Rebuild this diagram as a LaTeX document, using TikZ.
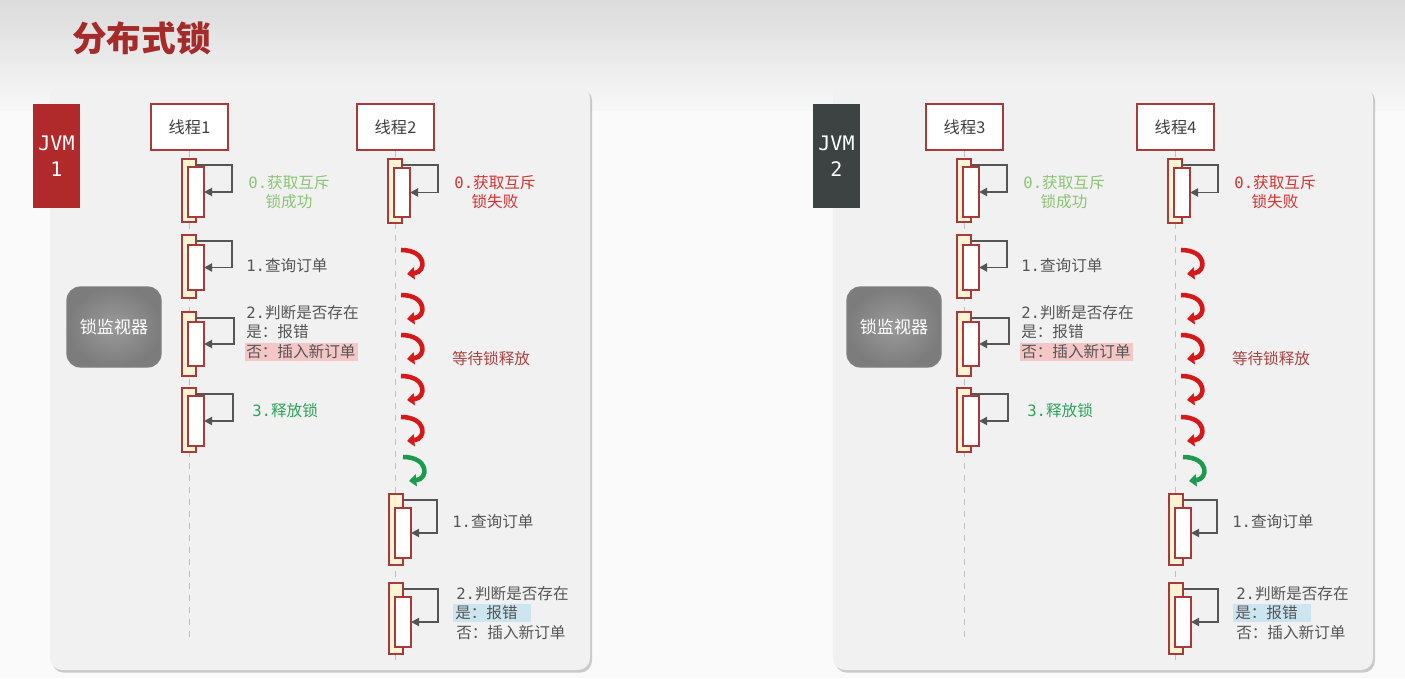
\documentclass[tikz,border=0pt]{standalone}
\usepackage{fontspec}
\setmainfont{Noto Sans CJK SC}
\setmonofont{DejaVu Sans Mono}
\usetikzlibrary{arrows.meta,shadows,calc}

\definecolor{dred}{HTML}{A52A2A}
\definecolor{jvmred}{HTML}{B0292B}
\definecolor{jvmgray}{HTML}{3D4242}
\definecolor{barfill}{HTML}{FFF3D6}
\definecolor{barline}{HTML}{A83A3A}
\definecolor{txtgray}{HTML}{555555}
\definecolor{okgreen}{HTML}{8CC474}
\definecolor{relgreen}{HTML}{2EA35A}
\definecolor{failred}{HTML}{D63333}
\definecolor{waitred}{HTML}{A94444}
\definecolor{pinkhl}{HTML}{F5C6C6}
\definecolor{bluehl}{HTML}{CDE5F1}
\definecolor{panelbg}{HTML}{F1F1F1}
\definecolor{arrred}{HTML}{D81818}
\definecolor{arrgreen}{HTML}{1B9B4B}
\definecolor{selfgray}{HTML}{555555}
\definecolor{moninner}{HTML}{9A9A9A}
\definecolor{monouter}{HTML}{7C7C7C}

\newcommand\lblfont{\fontsize{11.7}{14.6}\selectfont}

% activation bar with self call
% #1 name #2 outer left x #3 top #4 bottom #5 inner top #6 inner bottom #7 arrow x
\newcommand\actv[7]{%
  \node[outerbar, minimum height={(#4-#3)*0.75pt}] (#1o) at ({#2+7},{(#3+#4)/2}) {};
  \node[innerbar, minimum height={(#6-#5)*0.75pt}] (#1i) at ({#2+14},{(#5+#6)/2}) {};
  \draw[selfarr] (#1o.north east) ++(0,6) -- ++({#7-#2-14},0) |- (#1i.east);
}
% U-turn arrow: #1 x, #2 centre y, #3 colour
\newcommand\uturn[3]{%
  \draw[#3, line width=3.4pt, -{Triangle[length=5.5pt,width=9pt]}]
    (#1,#2-13) .. controls ({#1+26},#2-13) and ({#1+26},#2+9) .. ({#1+6},#2+11);
}

% #1 suffix #2 panel dx #3 colA dx #4 colB dx #5 jvm colour #6 jvm no #7 thread A no #8 thread B no
\newcommand\drawpanel[8]{%
  \begin{scope}[shift={(#2,0)}]
    \fill[panelbg, rounded corners=9pt,
      drop shadow={shadow xshift=1.5pt,shadow yshift=-2pt,opacity=.35,fill=black!55}]
      (50,86) rectangle (590,670);
  \end{scope}
  \begin{scope}[shift={(#4,0)}]
    \node[jvmbox, fill=#5] (jvm#1) at (56.5,156) {JVM\\#6};
    \node[monitor] (mon#1) at (114,327) {锁监视器};
  \end{scope}
  % thread A
  \begin{scope}[shift={(#3,0)}]
    \node[threadbox] (tA#1) at (189.5,127) {线程#7};
    \coordinate (eA#1) at (189.5,640);
    \draw[lifeline] (tA#1) -- (eA#1);
    \actv{aa#1}{182}{159}{222}{167}{217}{232}
    \actv{ab#1}{182}{235}{298}{245}{290}{232}
    \actv{ac#1}{182}{312}{376}{322}{366}{234}
    \actv{ad#1}{182}{388}{452}{396}{446}{233}
    \node[lbl, okgreen, align=center] (la0#1) at (289,192) {{\ttfamily 0.}获取互斥\\锁成功};
    \node[lbl, anchor=west] (la1#1) at (246,266) {{\ttfamily 1.}查询订单};
    \node[lbl, anchor=west] (la2#1) at (246,313) {{\ttfamily 2.}判断是否存在};
    \node[lbl, anchor=west] (la3#1) at (246,332) {是：报错};
    \fill[pinkhl] (245,343) rectangle (358,361);
    \node[lbl, anchor=west] (la4#1) at (246,352) {否：插入新订单};
    \node[lbl, relgreen, anchor=west] (la5#1) at (252,411) {{\ttfamily 3.}释放锁};
  \end{scope}
  % thread B
  \begin{scope}[shift={(#4,0)}]
    \node[threadbox] (tB#1) at (395.5,127) {线程#8};
    \coordinate (eB#1) at (395.5,660);
    \draw[lifeline] (tB#1) -- (eB#1);
    \actv{ba#1}{388}{159}{223}{168}{217}{438}
    \actv{bb#1}{389}{494}{565}{508}{558}{437}
    \actv{bc#1}{389}{583}{654}{597}{647}{438}
    \uturn{401}{263}{arrred}
    \uturn{401}{308}{arrred}
    \uturn{401}{348}{arrred}
    \uturn{401}{389}{arrred}
    \uturn{401}{430}{arrred}
    \uturn{403}{470}{arrgreen}
    \node[lbl, failred, align=center] (lb0#1) at (495,192) {{\ttfamily 0.}获取互斥\\锁失败};
    \node[lbl, waitred] (lbw#1) at (491,359) {等待锁释放};
    \node[lbl, anchor=west] (lb1#1) at (452,522) {{\ttfamily 1.}查询订单};
    \node[lbl, anchor=west] (lb2#1) at (456,594) {{\ttfamily 2.}判断是否存在};
    \fill[bluehl] (453,604) rectangle (531,622);
    \node[lbl, anchor=west] (lb3#1) at (455,613) {是：报错};
    \node[lbl, anchor=west] (lb4#1) at (456,633) {否：插入新订单};
  \end{scope}
}

\begin{document}
\begin{tikzpicture}[x=0.75pt,y=-0.75pt,
  outerbar/.style={draw=barline, fill=barfill, line width=1.1pt, minimum width=10.5pt, inner sep=0pt, outer sep=0pt},
  innerbar/.style={draw=barline, fill=white, line width=1.1pt, minimum width=12pt, inner sep=0pt, outer sep=0pt},
  selfarr/.style={draw=selfgray, line width=1.4pt, -{Triangle[length=6pt,width=6pt]}},
  lifeline/.style={draw=black!25, line width=1.2pt, dash pattern=on 5pt off 4pt},
  threadbox/.style={draw=barline, fill=white, line width=1.1pt, minimum width=57.75pt, minimum height=34.5pt,
    inner sep=0pt, font=\fontsize{12.2}{14}\selectfont, text=black!75},
  jvmbox/.style={minimum width=35.25pt, minimum height=78pt, inner sep=0pt, text=white, align=center,
    font=\ttfamily\fontsize{15}{19.5}\selectfont},
  monitor/.style={draw=black!50, line width=0.9pt, rounded corners=10pt, minimum width=70.5pt, minimum height=60pt,
    inner color=moninner, outer color=monouter, text=white, font=\fontsize{12.8}{14}\selectfont},
  lbl/.style={inner sep=0pt, text=txtgray, font=\lblfont},
  title/.style={inner sep=0pt, text=dred, font=\bfseries\fontsize{26}{30}\selectfont}
]
\useasboundingbox (0,0) rectangle (1405,678);
\fill[black!2] (0,0) rectangle (1405,678);
\shade[top color=black!14, bottom color=black!3] (0,0) rectangle (1405,110);
\node[title, anchor=west] (title) at (72,38) {分布式锁};

\drawpanel{L}{0}{0}{0}{jvmred}{1}{1}{2}
\drawpanel{R}{783}{775}{780}{jvmgray}{2}{3}{4}
\end{tikzpicture}
\end{document}
